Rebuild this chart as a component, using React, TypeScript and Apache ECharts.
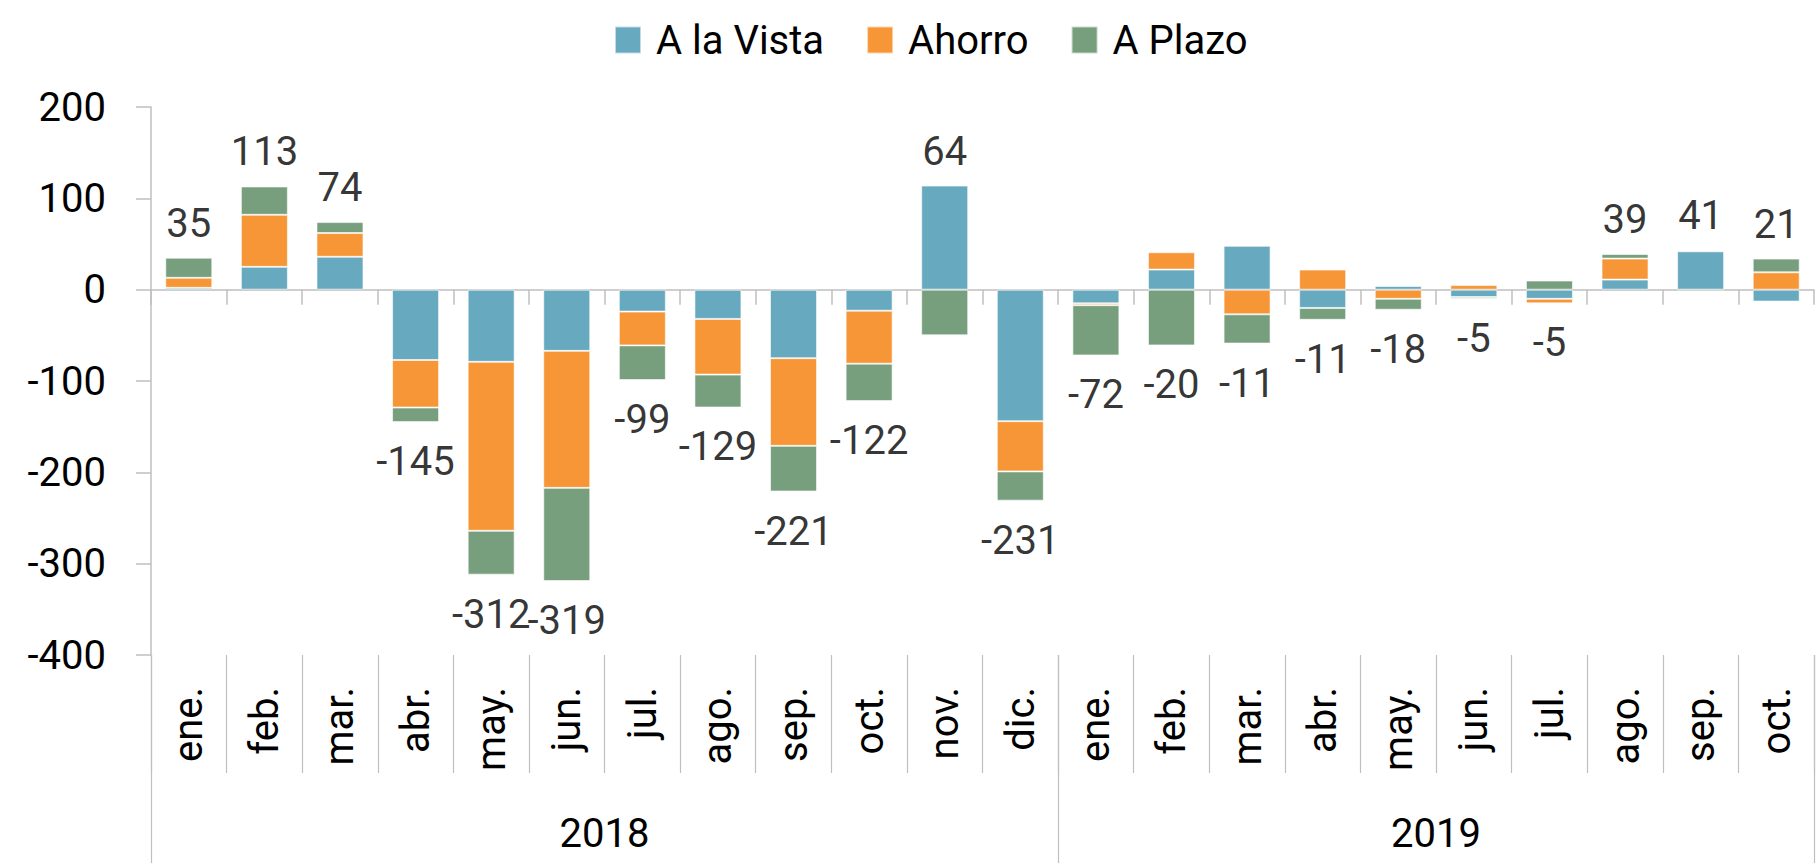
import React, { useEffect, useRef } from "react";
import * as echarts from "echarts";

const months = ["ene.", "feb.", "mar.", "abr.", "may.", "jun.", "jul.", "ago.", "sep.", "oct.", "nov.", "dic.", "ene.", "feb.", "mar.", "abr.", "may.", "jun.", "jul.", "ago.", "sep.", "oct."];
const years = ["2018", "2019"];
const monthsPerYear = [12, 10];
const seriesNames = ["A la Vista", "Ahorro", "A Plazo"];
const aLaVista = [2, 25, 36, -77, -79, -67, -24, -32, -75, -23, 114, -144, -15, 22, 48, -20, 4, -8, -10, 11, 42, -13];
const ahorro = [11, 57, 26, -52, -185, -150, -37, -61, -96, -58, 0, -55, -2, 19, -27, 22, -10, 5, -5, 23, 1, 19];
const aPlazo = [22, 31, 12, -16, -48, -102, -38, -36, -50, -41, -50, -32, -55, -61, -32, -13, -12, -2, 10, 5, -2, 15];
const totals = [35, 113, 74, -145, -312, -319, -99, -129, -221, -122, 64, -231, -72, -20, -11, -11, -18, -5, -5, 39, 41, 21];
const yMin = -400;
const yMax = 200;
const yStep = 100;

const colors = ["#67A9BF", "#F79636", "#779F7E"];
const axisGray = "#BFBFBF";
const FONT = "Roboto";

export default function App() {
  const ref = useRef<HTMLDivElement>(null);
  useEffect(() => {
    if (!ref.current) return;
    const chart = echarts.init(ref.current, null, { renderer: "svg" });

    const all = [aLaVista, ahorro, aPlazo];
    const anchors = months.map((_, i) => {
      let pos = 0;
      let neg = 0;
      all.forEach((arr) => {
        if (arr[i] >= 0) pos += arr[i];
        else neg += arr[i];
      });
      const up = totals[i] >= 0;
      return {
        value: [i, up ? pos : neg],
        label: { position: up ? "top" : "bottom", distance: up ? 14 : 19 },
      };
    });

    const bounds: number[] = [0];
    monthsPerYear.forEach((n) => bounds.push(bounds[bounds.length - 1] + n));
    const centers = years.map((_, k) => (bounds[k] + bounds[k + 1]) / 2);

    const option: any = {
      animation: false,
      color: colors,
      textStyle: { fontFamily: FONT },
      legend: {
        data: seriesNames,
        left: 609,
        top: 15,
        icon: "rect",
        itemWidth: 26,
        itemHeight: 27,
        itemGap: 42,
        textStyle: {
          fontFamily: FONT,
          fontSize: 40,
          color: "#000",
          padding: [0, 0, 0, 10],
        },
      },
      grid: {
        left: 151,
        right: 5,
        top: 107,
        bottom: 210,
        containLabel: false,
        outerBoundsMode: "none",
      },
      xAxis: [
        {
          type: "category",
          data: months,
          position: "bottom",
          axisLine: { show: true, onZero: true, lineStyle: { color: axisGray, width: 1.5 } },
          axisTick: { show: true, interval: 0, length: 15, lineStyle: { color: axisGray, width: 1.5 } },
          axisLabel: { show: false },
          splitLine: { show: false },
        },
        {
          type: "category",
          data: months,
          position: "bottom",
          axisLine: { show: false, onZero: false },
          axisTick: { show: true, interval: 0, length: 118, lineStyle: { color: axisGray, width: 1.2 } },
          axisLabel: {
            show: true,
            interval: 0,
            rotate: 90,
            margin: 32,
            fontFamily: FONT,
            fontSize: 40,
            color: "#000",
          },
          splitLine: { show: false },
        },
        {
          type: "value",
          min: bounds[0],
          max: bounds[bounds.length - 1],
          position: "bottom",
          axisLine: { show: false, onZero: false },
          axisTick: { show: true, customValues: bounds, length: 208, lineStyle: { color: axisGray, width: 1.2 } },
          axisLabel: {
            show: true,
            customValues: centers,
            margin: 158,
            fontFamily: FONT,
            fontSize: 40,
            color: "#000",
            formatter: (v: number) => {
              const k = centers.indexOf(v);
              return k >= 0 ? years[k] : "";
            },
          },
          splitLine: { show: false },
        },
      ],
      yAxis: {
        type: "value",
        min: yMin,
        max: yMax,
        interval: yStep,
        axisLine: { show: true, lineStyle: { color: axisGray, width: 1.5 } },
        axisTick: { show: true, length: 15, lineStyle: { color: axisGray, width: 1.5 } },
        axisLabel: { margin: 45, fontFamily: FONT, fontSize: 40, color: "#000" },
        splitLine: { show: false },
      },
      series: [
        ...seriesNames.map((name, k) => ({
          name,
          type: "bar",
          stack: "total",
          xAxisIndex: 0,
          barWidth: 47,
          data: all[k],
          itemStyle: { color: colors[k], borderColor: "rgba(255,255,255,0.6)", borderWidth: 1 },
          emphasis: { disabled: true },
        })),
        {
          name: "Total",
          type: "scatter",
          xAxisIndex: 0,
          symbolSize: 1,
          itemStyle: { color: "rgba(0,0,0,0)" },
          data: anchors,
          label: {
            show: true,
            fontFamily: FONT,
            fontSize: 40,
            color: "#000",
            formatter: (p: any) => String(totals[p.dataIndex]),
          },
          emphasis: { disabled: true },
          z: 5,
        },
      ],
    };
    chart.setOption(option);
    return () => chart.dispose();
  }, []);
  return (
    <div
      ref={ref}
      style={{ position: "absolute", left: 0, top: 0, width: 1819, height: 865 }}
    />
  );
}
